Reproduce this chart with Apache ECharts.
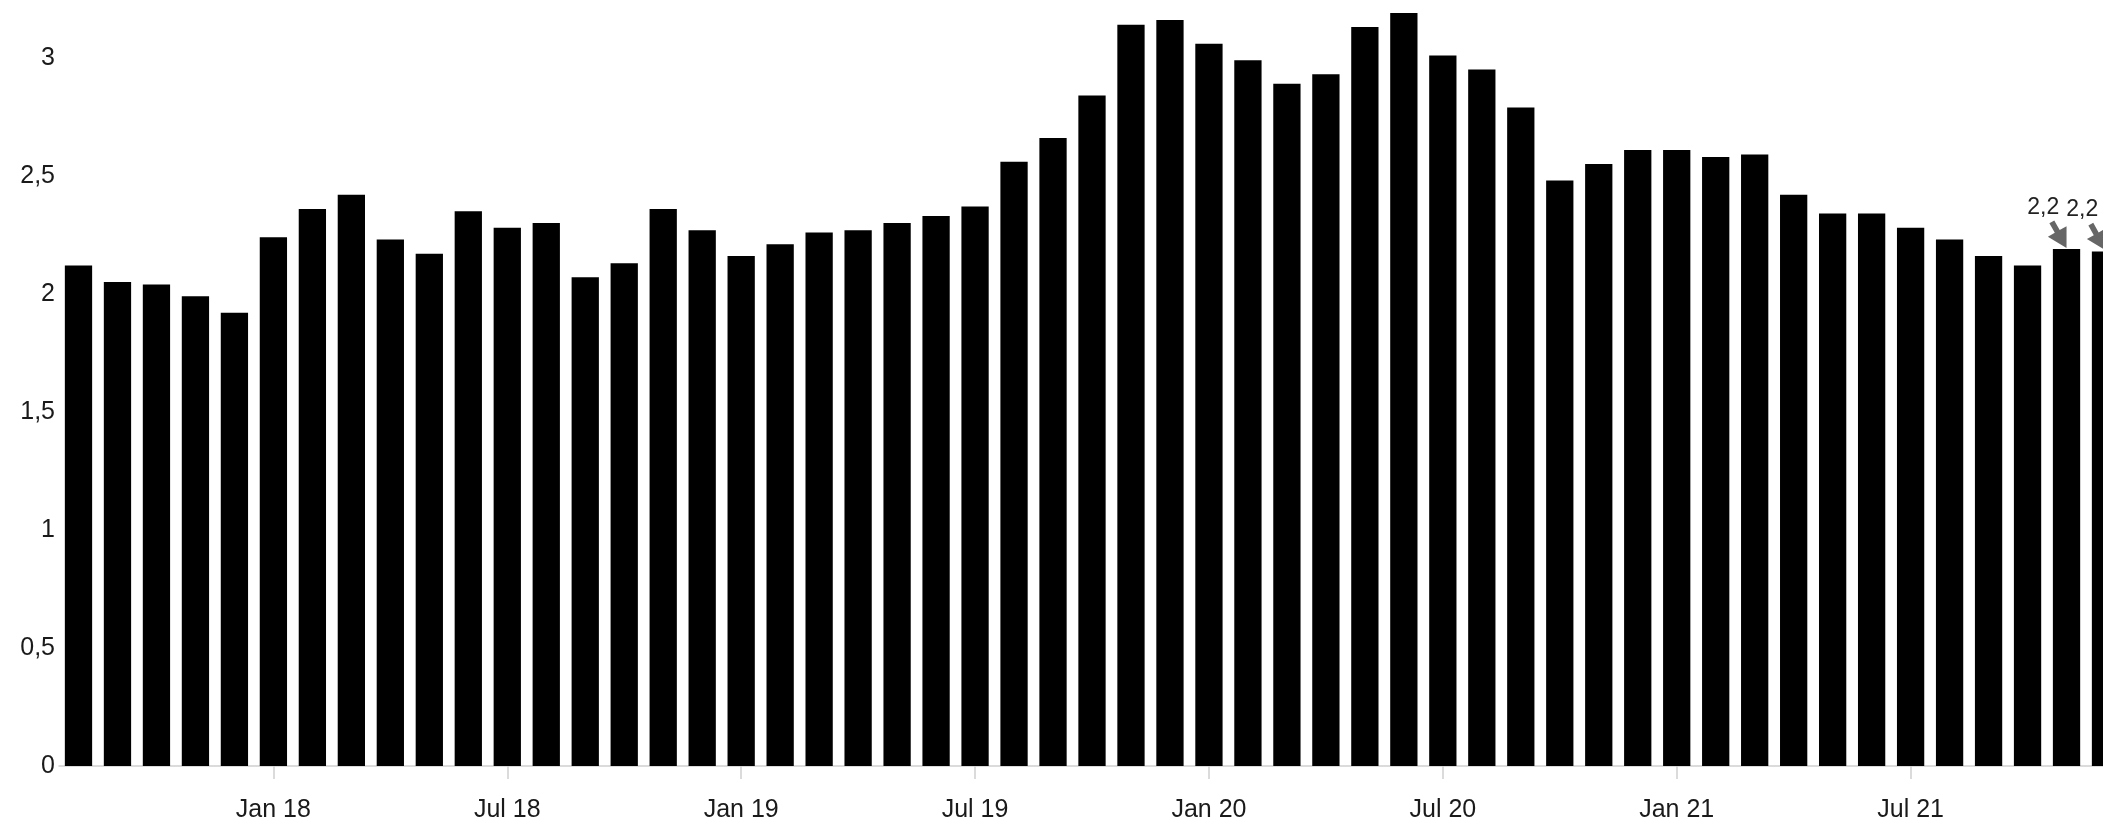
<!DOCTYPE html>
<html>
<head>
<meta charset="utf-8">
<style>
  html, body { margin: 0; padding: 0; background: #fff; overflow: hidden; width: 2103px; height: 823px; }
  #chart { width: 2150px; height: 823px; }
</style>
<script src="https://cdn.jsdelivr.net/npm/echarts@6/dist/echarts.min.js"></script>
</head>
<body>
<div id="chart"></div>
<script>
const categories = [
  'Aug 17','Sep 17','Oct 17','Nov 17','Dec 17',
  'Jan 18','Feb 18','Mar 18','Apr 18','May 18','Jun 18','Jul 18','Aug 18','Sep 18','Oct 18','Nov 18','Dec 18',
  'Jan 19','Feb 19','Mar 19','Apr 19','May 19','Jun 19','Jul 19','Aug 19','Sep 19','Oct 19','Nov 19','Dec 19',
  'Jan 20','Feb 20','Mar 20','Apr 20','May 20','Jun 20','Jul 20','Aug 20','Sep 20','Oct 20','Nov 20','Dec 20',
  'Jan 21','Feb 21','Mar 21','Apr 21','May 21','Jun 21','Jul 21','Aug 21','Sep 21','Oct 21','Nov 21','Dec 21'
];
const values = [
  2.12, 2.05, 2.04, 1.99, 1.92,
  2.24, 2.36, 2.42, 2.23, 2.17, 2.35, 2.28, 2.30, 2.07, 2.13, 2.36, 2.27,
  2.16, 2.21, 2.26, 2.27, 2.30, 2.33, 2.37, 2.56, 2.66, 2.84, 3.14, 3.16,
  3.06, 2.99, 2.89, 2.93, 3.13, 3.19, 3.01, 2.95, 2.79, 2.48, 2.55, 2.61,
  2.61, 2.58, 2.59, 2.42, 2.34, 2.34, 2.28, 2.23, 2.16, 2.12, 2.19, 2.18
];
const tickMonths = ['Jan', 'Jul'];
const annotatedMonths = ['Nov 21', 'Dec 21'];
const annotationLabels = ['2,2', '2,2'];

const arrowPath = 'path://M18.64,27.53 L18.66,5.72 L11.77,9.59 L6.38,0 L1.5,2.74 L6.89,12.33 L0,16.2 Z';

const chart = echarts.init(document.getElementById('chart'), null, { renderer: 'canvas' });
const font = '"Liberation Sans", Arial, sans-serif';
const isTick = (i, v) => tickMonths.includes(String(v).slice(0, 3));

chart.setOption({
  animation: false,
  backgroundColor: '#ffffff',
  grid: { left: 59, top: 10.6, width: 2066, bottom: 55, containLabel: false },
  xAxis: {
    type: 'category',
    data: categories,
    boundaryGap: true,
    axisLine: { show: true, lineStyle: { color: '#d0d0d0', width: 1.5 } },
    axisTick: { show: true, alignWithLabel: true, interval: isTick, length: 13, lineStyle: { color: '#cfcfcf', width: 1.5 } },
    axisLabel: {
      interval: isTick,
      margin: 32,
      fontFamily: font,
      fontSize: 25,
      color: '#1a1a1a'
    },
    splitLine: { show: false }
  },
  yAxis: {
    type: 'value',
    min: 0,
    max: 3.2,
    interval: 0.5,
    axisLine: { show: false },
    axisTick: { show: false },
    splitLine: { show: false },
    axisLabel: {
      showMaxLabel: false,
      margin: 4,
      padding: [6, 0, 0, 0],
      fontFamily: font,
      fontSize: 25,
      color: '#1a1a1a',
      formatter: v => (Math.abs(v / 0.5 - Math.round(v / 0.5)) < 1e-6 ? String(v).replace('.', ',') : '')
    }
  },
  series: [{
    type: 'bar',
    data: values,
    barCategoryGap: '30%',
    itemStyle: { color: '#000000' },
    markPoint: {
      symbol: arrowPath,
      symbolSize: [18.66, 27.53],
      symbolOffset: [-9.3, -14.8],
      itemStyle: { color: '#666666' },
      label: {
        show: true,
        position: [-4.6, -13.2],
        align: 'center',
        verticalAlign: 'middle',
        fontFamily: font,
        fontSize: 23,
        color: '#222222'
      },
      data: annotatedMonths.map((m, i) => ({
        coord: [m, values[categories.indexOf(m)]],
        value: annotationLabels[i],
        label: { formatter: annotationLabels[i] }
      }))
    }
  }]
});
</script>
</body>
</html>
